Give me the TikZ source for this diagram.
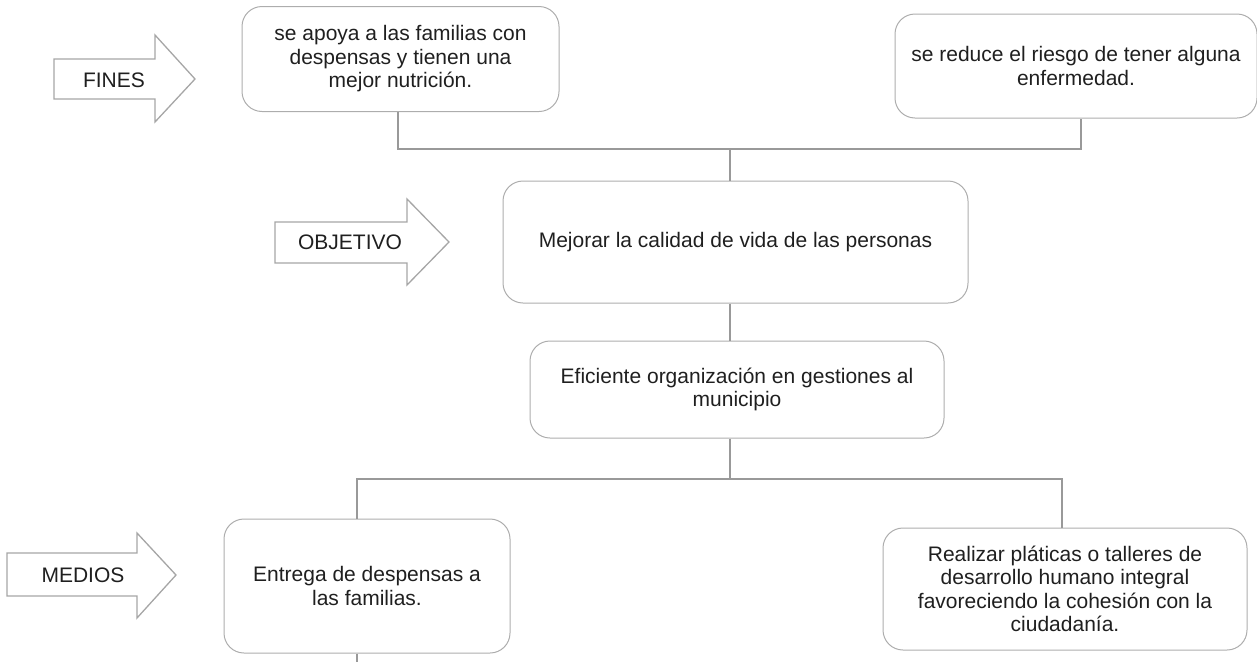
\documentclass[tikz,border=0pt]{standalone}
\usepackage{fontspec}
\setmainfont{Liberation Sans}
\begin{document}
\begin{tikzpicture}[x=1pt,y=-1pt,
  every node/.style={font=\fontsize{21}{23.5}\selectfont, text=black!88},
  box/.style={draw=black!32, line width=1pt, rounded corners=20pt, inner sep=0pt, align=center},
  conn/.style={draw=black!40, line width=1.1pt},
  bigarrow/.style={draw=black!35, line width=1.3pt, fill=white, line join=miter}]
\useasboundingbox (0,0) rectangle (1257,662);

% boxes
\node[box, minimum width=317pt, minimum height=105pt] (fin1) at (400.5,59)
  {se apoya a las familias con\\despensas y tienen una\\mejor nutrición.};
\node[box, minimum width=362pt, minimum height=104pt] (fin2) at (1076,66)
  {se reduce el riesgo de tener alguna\\enfermedad.};
\node[box, minimum width=465pt, minimum height=122pt] (obj) at (735.5,242)
  {Mejorar la calidad de vida de las personas};
\node[box, minimum width=414pt, minimum height=97pt] (eff) at (737,389.5)
  {Eficiente organización en gestiones al\\municipio};
\node[box, minimum width=286pt, minimum height=134pt] (med1) at (367,586)
  {Entrega de despensas a\\las familias.};
\node[box, minimum width=364pt, minimum height=122pt] (med2) at (1065,589)
  {Realizar pláticas o talleres de\\desarrollo humano integral\\favoreciendo la cohesión con la\\ciudadanía.};

% block arrows
\draw[bigarrow] (54,59) -- (155,59) -- (155,35) -- (195,79) -- (155,122) -- (155,99) -- (54,99) -- cycle;
\node (lfines) at (114,80) {FINES};
\draw[bigarrow] (275,222) -- (407,222) -- (407,199) -- (449,242) -- (407,285) -- (407,263) -- (275,263) -- cycle;
\node (lobj) at (350,242) {OBJETIVO};
\draw[bigarrow] (7,553) -- (137,553) -- (137,533) -- (176,575) -- (137,618) -- (137,596) -- (7,596) -- cycle;
\node (lmed) at (83,575) {MEDIOS};

% connectors
\coordinate (j1) at (730,149);
\coordinate (k1) at (398,149);
\coordinate (k2) at (1081,149);
\coordinate (j3) at (730,479);
\coordinate (m1) at (357,479);
\coordinate (m2) at (1062,479);
\coordinate (bot) at (357,662);

\draw[conn] (k1 |- fin1.south) -- (k1) -- (k2) -- (k2 |- fin2.south);
\draw[conn] (j1) -- (j1 |- obj.north);
\draw[conn] (j1 |- obj.south) -- (j1 |- eff.north);
\draw[conn] (j1 |- eff.south) -- (j3);
\draw[conn] (m1 |- med1.north) -- (m1) -- (m2) -- (m2 |- med2.north);
\draw[conn] (m1 |- med1.south) -- (bot);
\end{tikzpicture}
\end{document}
